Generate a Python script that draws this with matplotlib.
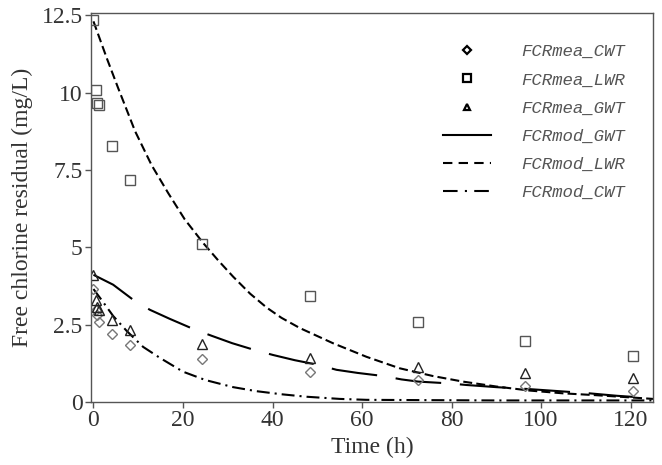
import matplotlib
matplotlib.use("Agg")
import matplotlib.pyplot as plt
from matplotlib.lines import Line2D
from matplotlib.ticker import FuncFormatter

t_mea = [0, 0.5, 0.9, 1.25, 4.2, 8.2, 24.2, 48.3, 72.5, 96.5, 120.6]
cwt_mea = [3.65, 2.98, 2.8, 2.6, 2.2, 1.83, 1.38, 0.97, 0.71, 0.52, 0.36]
lwr_mea = [12.33, 10.08, 9.67, 9.6, 8.27, 7.17, 5.1, 3.41, 2.6, 1.98, 1.49]
gwt_mea = [4.1, 3.3, 3.07, 2.98, 2.65, 2.33, 1.88, 1.41, 1.14, 0.93, 0.77]

# --- model curves ---
t_lwr = [0, 3, 5.5, 9.3, 13, 16.7, 20.4, 24.5, 27.9, 31.2, 35, 38.7, 42, 46.1,
         53.5, 61, 68.4, 75.8, 82.5, 90, 97.4, 104.9, 112.3, 119.8, 125]
lwr_mod = [12.3, 11.1, 10.15, 8.75, 7.65, 6.75, 5.9, 5.14, 4.57, 4.05, 3.5,
           3.05, 2.72, 2.39, 1.9, 1.46, 1.09, 0.84, 0.66, 0.5, 0.37, 0.28,
           0.22, 0.15, 0.1]

t_gwt = [0, 4.4, 8.9, 12.6, 17, 22.3, 26.4, 31, 36, 40.1, 45, 50.2, 54.3, 59,
         64.7, 68.8, 72.5, 79.6, 83.3, 90, 97, 104, 110.8, 117, 124.2]
gwt_mod = [4.11, 3.79, 3.3, 2.98, 2.69, 2.36, 2.14, 1.9, 1.68, 1.52, 1.35,
           1.2, 1.04, 0.94, 0.84, 0.73, 0.66, 0.6, 0.55, 0.48, 0.42, 0.35,
           0.28, 0.2, 0.13]

t_cwt = [0, 1.8, 2.9, 4.4, 7.4, 11.1, 14.8, 20, 25, 31.2, 36.4, 42, 47.6, 55,
         61, 75, 90, 105, 125]
cwt_mod = [3.65, 3.3, 3.08, 2.78, 2.3, 1.78, 1.43, 0.98, 0.71, 0.48, 0.35,
           0.25, 0.17, 0.1, 0.07, 0.06, 0.05, 0.05, 0.05]

labels = ["FCRmea_CWT", "FCRmea_LWR", "FCRmea_GWT",
          "FCRmod_GWT", "FCRmod_LWR", "FCRmod_CWT"]

plt.rcParams["font.family"] = ["Liberation Serif", "DejaVu Serif"]

fig = plt.figure(figsize=(6.62, 4.65), dpi=100)
ax = fig.add_axes([91 / 662, 1 - 402 / 465, 562 / 662, 389 / 465])

lw = 1.5
ax.plot(t_gwt, gwt_mod, color="black", lw=lw, linestyle=(0, (22, 9)))
ax.plot(t_lwr, lwr_mod, color="black", lw=lw, linestyle=(0, (4.3, 2.0)))
ax.plot(t_cwt, cwt_mod, color="black", lw=lw, linestyle=(0, (6.2, 2.4, 1.0, 2.4)))

ax.plot(t_mea, cwt_mea, linestyle="none", marker="D", ms=5.2, mfc="none",
        mec="#777777", mew=1.0)
ax.plot(t_mea, lwr_mea, linestyle="none", marker="s", ms=7, mfc="none",
        mec="#555555", mew=1.0)
ax.plot(t_mea, gwt_mea, linestyle="none", marker="^", ms=7.5, mfc="none",
        mec="#222222", mew=1.0)

ax.set_xlim(-0.55, 125)
ax.set_ylim(0, 12.57)
ax.set_xticks([0, 20, 40, 60, 80, 100, 120])
ax.set_yticks([0, 2.5, 5, 7.5, 10, 12.5])
ax.yaxis.set_major_formatter(FuncFormatter(lambda v, p: f"{v:g}"))

for s in ax.spines.values():
    s.set_color("#555555")
    s.set_linewidth(1.0)
ax.tick_params(direction="out", length=4, width=1, color="#555555",
               labelsize=17, labelcolor="#333333", pad=2)

ax.set_xlabel("Time (h)", fontsize=17, color="#333333", labelpad=4)
ax.set_ylabel("Free chlorine residual (mg/L)", fontsize=17, color="#333333",
              labelpad=6)

handles = [
    Line2D([], [], linestyle="none", marker="D", ms=4.5, mfc="none", mec="black", mew=1.6),
    Line2D([], [], linestyle="none", marker="s", ms=5.5, mfc="none", mec="black", mew=1.6),
    Line2D([], [], linestyle="none", marker="^", ms=5, mfc="none", mec="black", mew=1.6),
    Line2D([], [], color="black", lw=1.5, linestyle="-"),
    Line2D([], [], color="black", lw=1.5, linestyle=(0, (4.5, 3.0))),
    Line2D([], [], color="black", lw=1.5, linestyle=(0, (7, 3.5, 1.0, 3.5))),
]
leg = ax.legend(handles, labels, loc="upper left", bbox_to_anchor=(0.626, 0.92),
                frameon=False, handlelength=2.8, handletextpad=1.7,
                labelspacing=0.75, borderpad=0, borderaxespad=0,
                prop={"family": "Liberation Mono", "style": "italic", "size": 12.5})
for txt in leg.get_texts():
    txt.set_color("#555555")

fig.savefig("out.png", dpi=100)
